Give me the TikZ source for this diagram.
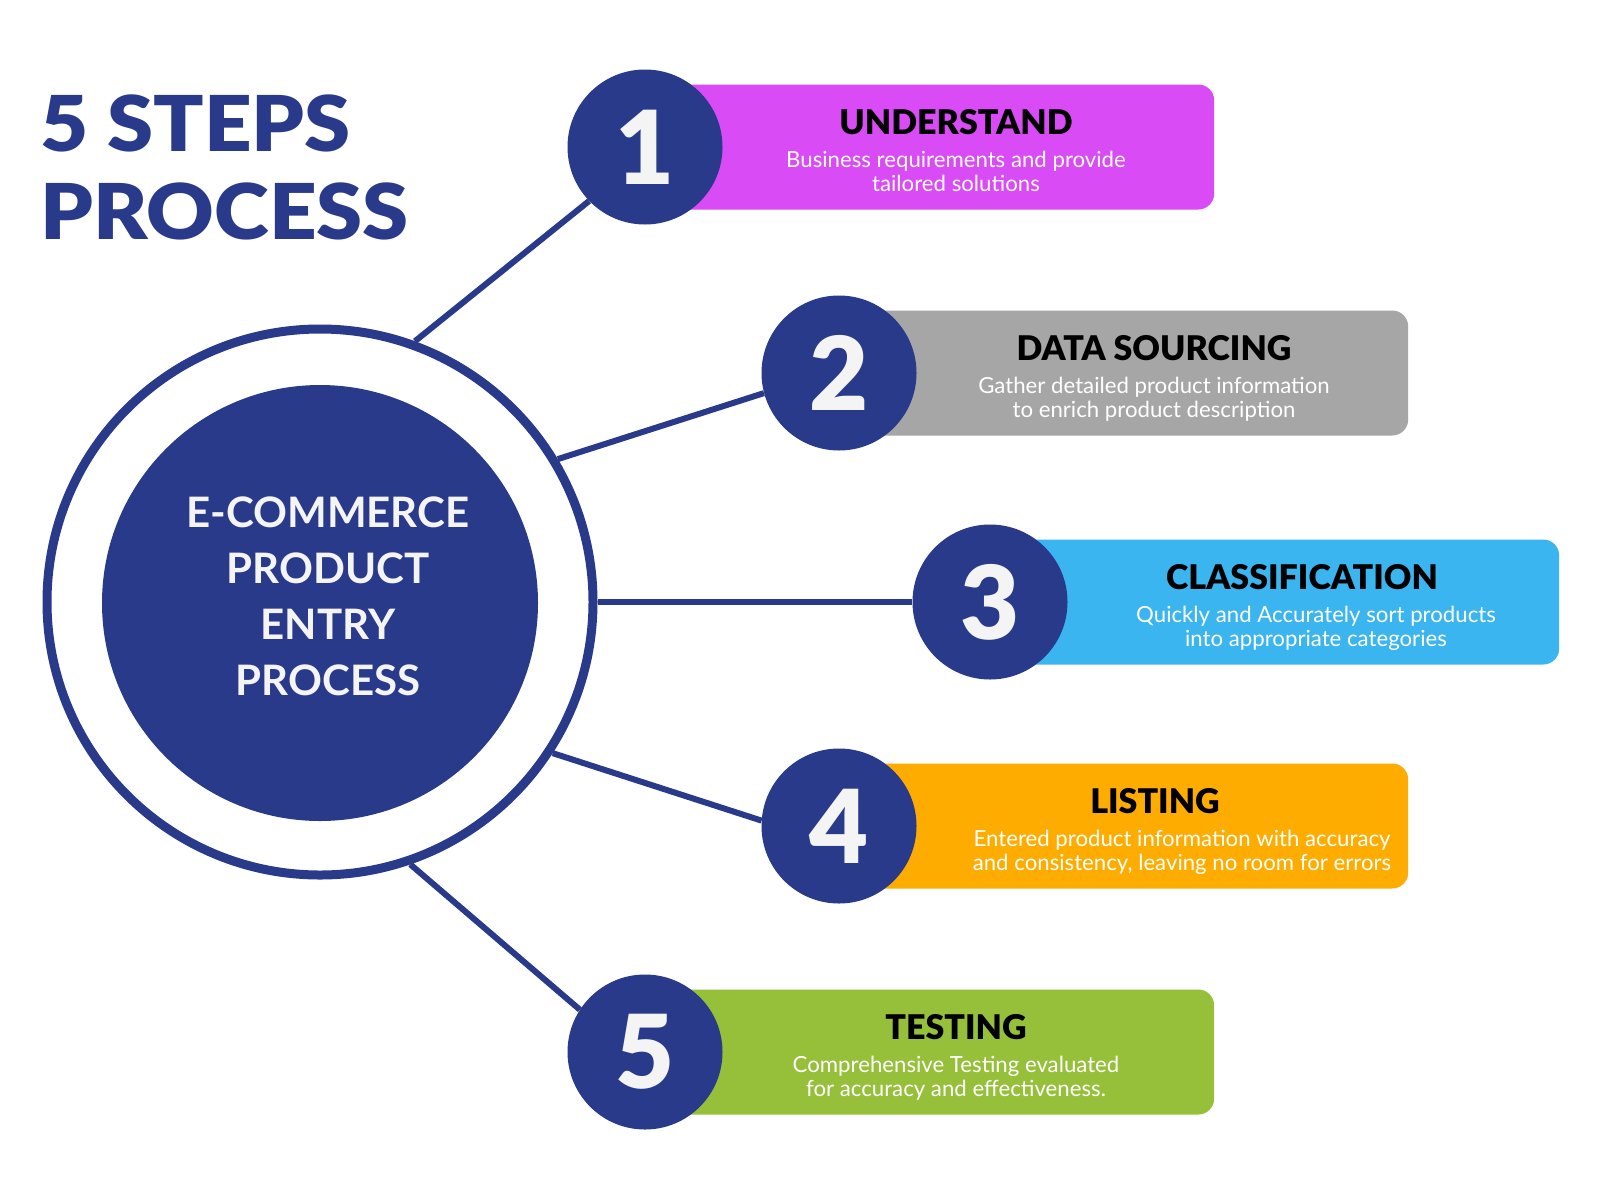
\documentclass[tikz,border=0pt]{standalone}
\usepackage{fontspec}
\setmainfont{Lato}
\newfontfamily\heavyfont{Lato Black}
\newfontfamily\headingfont[FakeStretch=1.08]{Lato Black}
\usetikzlibrary{positioning}

\definecolor{navy}{HTML}{283A89}
\definecolor{digitwhite}{HTML}{F4F4F4}
\definecolor{boxmagenta}{HTML}{D94BF5}
\definecolor{boxgray}{HTML}{A6A6A6}
\definecolor{boxsky}{HTML}{3BB5EF}
\definecolor{boxamber}{HTML}{FFAC00}
\definecolor{boxlime}{HTML}{96BF3A}

\tikzset{
  num/.style={circle, fill=navy, minimum size=155pt, inner sep=0pt, text=digitwhite,
    font=\heavyfont\fontsize{102}{102}\selectfont},
  stepbox/.style={anchor=west, rounded corners=16pt, minimum width=569pt,
    minimum height=125pt, inner sep=0pt},
  steptitle/.style={anchor=base, inner sep=0pt, text=black,
    font=\heavyfont\fontsize{34}{34}\selectfont},
  stepnote/.style={anchor=north, align=center, inner sep=0pt, text=white,
    font=\fontsize{22.2}{23.5}\selectfont},
  link/.style={draw=navy, line width=6pt},
}

\begin{document}
\begin{tikzpicture}[x=1pt,y=-1pt]
\fill[white] (0,0) rectangle (1600,1200);
\useasboundingbox (0,0) rectangle (1600,1200);

% heading
\node[anchor=north west, align=left, inner sep=0pt, text=navy,
  font=\headingfont\fontsize{77}{88}\selectfont] (heading) at (40,95) {5 STEPS\\PROCESS};

% centre
\node[circle, draw=navy, line width=9pt, minimum size=546pt, inner sep=0pt] (ring) at (320,602) {};
\node[circle, fill=navy, minimum size=436pt, inner sep=0pt] (hub) at (320,603) {};
\node[anchor=north, align=center, inner sep=0pt, text=digitwhite,
  font=\bfseries\fontsize{42}{56}\selectfont] (hubtext) at (328,497)
  {E-COMMERCE\\PRODUCT\\ENTRY\\PROCESS};

% step centres
\coordinate (c1) at (645,147);
\coordinate (c2) at (839,373);
\coordinate (c3) at (990,602);
\coordinate (c4) at (839,826);
\coordinate (c5) at (645,1052);

% boxes
\node[stepbox, fill=boxmagenta] (b1) at (c1) {};
\node[stepbox, fill=boxgray] (b2) at (c2) {};
\node[stepbox, fill=boxsky] (b3) at (c3) {};
\node[stepbox, fill=boxamber] (b4) at (c4) {};
\node[stepbox, fill=boxlime] (b5) at (c5) {};

% numbers
\node[num] (n1) at (c1) {1};
\node[num] (n2) at (c2) {2};
\node[num] (n3) at (c3) {3};
\node[num] (n4) at (c4) {4};
\node[num] (n5) at (c5) {5};

\draw[link] (ring.70) -- (n1.224);
\draw[link] (ring.31) -- (n2.195);
\draw[link] (ring.0) -- (n3.180);
\draw[link] (ring.-33) -- (n4.176);
\draw[link] (ring.-71) -- (n5.147);

% texts
\node[steptitle] (t1) at ([xshift=311pt,yshift=13pt]c1) {UNDERSTAND};
\node[stepnote] (d1) at ([xshift=311pt,yshift=-4pt]c1) {Business requirements and provide\\tailored solutions};
\node[steptitle] (t2) at ([xshift=315pt,yshift=13pt]c2) {DATA SOURCING};
\node[stepnote] (d2) at ([xshift=315pt,yshift=-4pt]c2) {Gather detailed product information\\to enrich product description};
\node[steptitle] (t3) at ([xshift=312pt,yshift=13pt]c3) {CLASSIFICATION};
\node[stepnote] (d3) at ([xshift=326pt,yshift=-4pt]c3) {Quickly and Accurately sort products\\into appropriate categories};
\node[steptitle] (t4) at ([xshift=316pt,yshift=13pt]c4) {LISTING};
\node[stepnote] (d4) at ([xshift=343pt,yshift=-4pt]c4) {Entered product information with accuracy\\and consistency, leaving no room for errors};
\node[steptitle] (t5) at ([xshift=311pt,yshift=13pt]c5) {TESTING};
\node[stepnote] (d5) at ([xshift=311pt,yshift=-4pt]c5) {Comprehensive Testing evaluated\\for accuracy and effectiveness.};
\end{tikzpicture}
\end{document}
